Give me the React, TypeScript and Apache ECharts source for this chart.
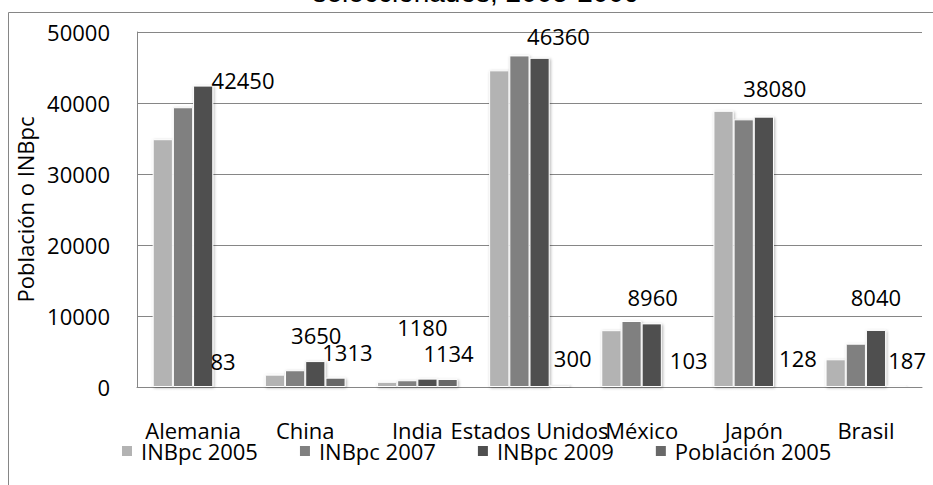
import React, { useEffect, useRef } from "react";
import * as echarts from "echarts";

// Countries and indicator values
const categories = ["Alemania", "China", "India", "Estados Unidos", "México", "Japón", "Brasil"];
const inb2005 = [34900, 1740, 730, 44600, 8000, 38900, 3900];
const inb2007 = [39400, 2360, 950, 46700, 9300, 37700, 6100];
const inb2009 = [42450, 3650, 1180, 46360, 8960, 38080, 8040];
const poblacion2005 = [83, 1313, 1134, 300, 103, 128, 187];

const seriesNames = ["INBpc 2005", "INBpc 2007", "INBpc 2009", "Población 2005"];
const seriesColors = ["#b3b3b3", "#808080", "#4f4f4f", "#686868"];

// Hand-placed label anchors (label centre relative to bar top-left), per country
const inb2009LabelPos: [number, number][] = [
  [50, -6], [11, -26], [5, -52], [29, -22], [11, -26], [21, -29], [10, -33],
];
const poblacionLabelPos: [number, number][] = [
  [10, -25], [22, -26], [11, -26], [23, -27], [27, -26], [24, -28], [21, -26],
];

const FONT = "'Open Sans', Lato, sans-serif";
const FS = 22;

export default function App() {
  const ref = useRef<HTMLDivElement>(null);

  useEffect(() => {
    if (!ref.current) return;
    const chart = echarts.init(ref.current, undefined, { renderer: "svg" });

    const barStyle = (color: string) => ({
      color,
      borderColor: "#ffffff",
      borderWidth: 1,
      shadowColor: "rgba(0,0,0,0.3)",
      shadowBlur: 3,
      shadowOffsetX: 1,
      shadowOffsetY: 1,
    });

    const labelled = (values: number[], pos: [number, number][]) =>
      values.map((v, i) => ({
        value: v,
        label: {
          show: true,
          position: pos[i],
          align: "center",
          verticalAlign: "middle",
          color: "#000",
          fontFamily: FONT,
          fontSize: FS,
          lineHeight: 22,
        },
      }));

    const seriesData = [
      inb2005,
      inb2007,
      labelled(inb2009, inb2009LabelPos),
      labelled(poblacion2005, poblacionLabelPos),
    ];

    chart.setOption({
      animation: false,
      backgroundColor: "#ffffff",
      textStyle: { fontFamily: FONT },
      graphic: [
        {
          type: "rect",
          shape: { x: 8.5, y: 12.5, width: 1000, height: 600 },
          style: { fill: "none", stroke: "#868686", lineWidth: 1 },
          silent: true,
          z: -1,
        },
        {
          type: "text",
          x: 476,
          y: -8,
          style: {
            text: "seleccionados, 2005-2009",
            fontFamily: "'Liberation Sans', Arial, sans-serif",
            fontSize: 28,
            fill: "#000",
            align: "center",
            verticalAlign: "middle",
          },
        },
      ],
      grid: { left: 137, right: 11, top: 32, bottom: 98 },
      legend: {
        left: 120,
        top: 440,
        padding: 0,
        itemWidth: 12,
        itemHeight: 12,
        itemGap: 40,
        icon: "rect",
        textStyle: {
          fontFamily: FONT,
          fontSize: FS,
          lineHeight: 18,
          color: "#000",
          padding: [0, 0, 0, 3],
        },
        data: seriesNames,
      },
      xAxis: {
        type: "category",
        data: categories,
        axisLine: { show: true, lineStyle: { color: "#868686", width: 1 } },
        axisTick: { show: false },
        axisLabel: {
          color: "#000",
          fontFamily: FONT,
          fontSize: FS,
          lineHeight: 18,
          margin: 34,
          interval: 0,
        },
      },
      yAxis: {
        type: "value",
        min: 0,
        max: 50000,
        interval: 10000,
        name: "Población o INBpc",
        nameLocation: "middle",
        nameGap: 88,
        nameTextStyle: { color: "#000", fontFamily: FONT, fontSize: FS },
        axisLine: { show: true, lineStyle: { color: "#868686", width: 1 } },
        axisTick: { show: false },
        axisLabel: {
          color: "#000",
          fontFamily: FONT,
          fontSize: FS,
          margin: 27,
          formatter: (v: number) => String(v),
        },
        splitLine: { lineStyle: { color: "#868686", width: 1 } },
      },
      series: seriesNames.map((name, i) => ({
        name,
        type: "bar",
        data: seriesData[i],
        barGap: "0%",
        barCategoryGap: "28%",
        itemStyle: barStyle(seriesColors[i]),
      })),
    });

    return () => chart.dispose();
  }, []);

  return <div ref={ref} style={{ width: 933, height: 485, position: "absolute", left: 0, top: 0 }} />;
}
